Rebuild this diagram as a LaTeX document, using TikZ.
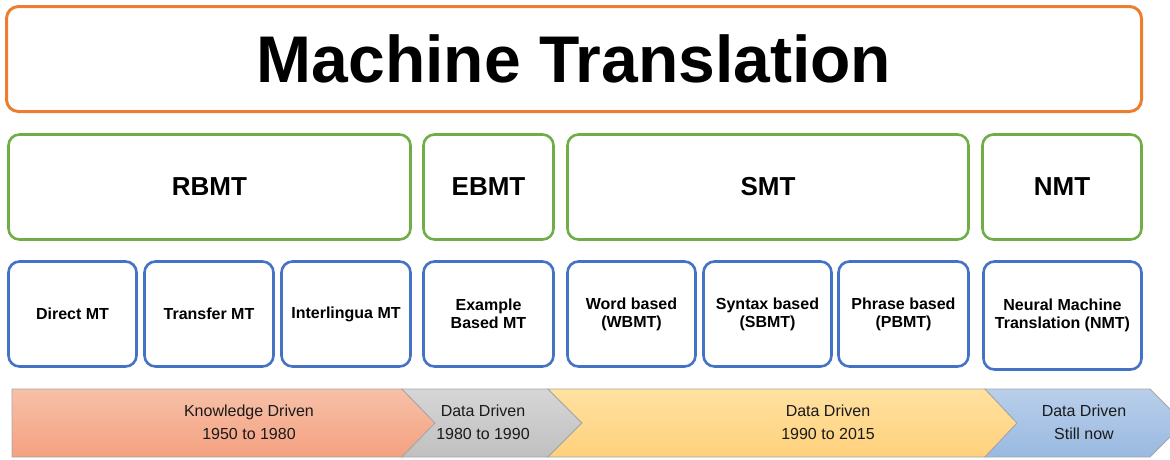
\documentclass[tikz,border=0pt]{standalone}
\usepackage{fontspec}
\setmainfont{Liberation Sans}
\definecolor{mtorange}{HTML}{ED7D31}
\definecolor{mtgreen}{HTML}{70AD47}
\definecolor{mtblue}{HTML}{4472C4}
\definecolor{edgegray}{HTML}{A6A6A6}
\definecolor{arrtext}{HTML}{1A1A1A}
\begin{document}
\begin{tikzpicture}[x=1pt,y=-1pt,
  titlebox/.style={draw=mtorange,line width=3pt,rounded corners=12pt,
    minimum width=1135pt,minimum height=105pt,inner sep=0pt,
    font=\fontsize{66}{78}\selectfont\bfseries},
  familybox/.style={draw=mtgreen,line width=2.6pt,rounded corners=11pt,
    minimum height=105pt,inner sep=0pt,
    font=\fontsize{26}{30}\selectfont\bfseries},
  methodbox/.style={draw=mtblue,line width=2.6pt,rounded corners=11pt,
    minimum height=105pt,inner sep=0pt,align=center,
    font=\fontsize{16}{18}\selectfont\bfseries},
  era/.style={draw=edgegray,line width=0.8pt},
  eralabel/.style={align=center,text=arrtext,
    font=\fontsize{16}{23}\selectfont},
]
\useasboundingbox (0,0) rectangle (1170,459);

% title
\node[titlebox] (title) at (574,59) {Machine Translation};

% families
\node[familybox,minimum width=402pt] (rbmt) at (209.5,187) {RBMT};
\node[familybox,minimum width=130pt] (ebmt) at (488.5,187) {EBMT};
\node[familybox,minimum width=401pt] (smt)  at (768,187)   {SMT};
\node[familybox,minimum width=159pt] (nmt)  at (1062,187)  {NMT};

% methods
\node[methodbox,minimum width=128pt] (direct)   at (72.5,314)  {Direct MT};
\node[methodbox,minimum width=129pt] (transfer) at (209,314)   {Transfer MT};
\node[methodbox,minimum width=129pt] (inter)    at (346,314)   {Interlingua MT};
\node[methodbox,minimum width=130pt] (example)  at (488.5,314) {Example\\Based MT};
\node[methodbox,minimum width=128pt] (word)     at (631.5,314) {Word based\\(WBMT)};
\node[methodbox,minimum width=128pt] (syntax)   at (767.5,314) {Syntax based\\(SBMT)};
\node[methodbox,minimum width=130pt] (phrase)   at (903.5,314) {Phrase based\\(PBMT)};
\node[methodbox,minimum width=158pt,minimum height=108pt] (neural) at (1062.5,315.5) {Neural Machine\\Translation (NMT)};

% timeline chevrons
\shadedraw[era,top color={rgb,255:red,247;green,192;blue,168},bottom color={rgb,255:red,244;green,161;blue,128}]
  (12,389) -- (402,389) -- (435,423) -- (402,457) -- (12,457) -- cycle;
\shadedraw[era,top color={rgb,255:red,214;green,214;blue,214},bottom color={rgb,255:red,192;green,192;blue,192}]
  (402,389) -- (548,389) -- (582,423) -- (548,457) -- (402,457) -- (435,423) -- cycle;
\shadedraw[era,top color={rgb,255:red,255;green,225;blue,160},bottom color={rgb,255:red,255;green,209;blue,124}]
  (548,389) -- (985,389) -- (1017,423) -- (985,457) -- (548,457) -- (582,423) -- cycle;
\shadedraw[era,top color={rgb,255:red,185;green,207;blue,235},bottom color={rgb,255:red,153;green,185;blue,224}]
  (985,389) -- (1150,389) -- (1184,423) -- (1150,457) -- (985,457) -- (1017,423) -- cycle;

\node[eralabel] (knowledge) at (249,422)  {Knowledge Driven\\1950 to 1980};
\node[eralabel] (early)     at (483,422)  {Data Driven\\1980 to 1990};
\node[eralabel] (stat)      at (828,422)  {Data Driven\\1990 to 2015};
\node[eralabel] (neuralera) at (1084,422) {Data Driven\\Still now};
\end{tikzpicture}
\end{document}
